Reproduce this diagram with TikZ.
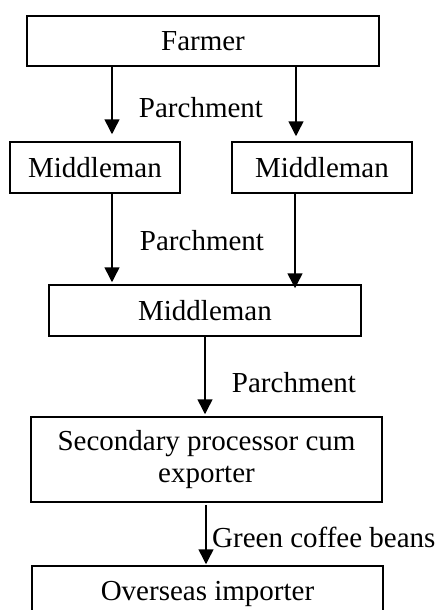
\documentclass[tikz,border=0pt]{standalone}
\usepackage{fontspec}
\setmainfont{Liberation Serif}
\usetikzlibrary{arrows.meta}
\tikzset{
  box/.style={draw, line width=1.5pt, inner sep=0pt, align=center, font=\fontsize{29}{32}\selectfont},
  lbl/.style={inner sep=0pt, font=\fontsize{29}{32}\selectfont},
  arr/.style={line width=1.5pt, -{Triangle[width=15pt,length=15pt]}}
}
\begin{document}
\begin{tikzpicture}[x=1pt,y=-1pt]
\useasboundingbox (0,0) rectangle (439,610);
\clip (0,0) rectangle (439,610);
\fill[white] (0,0) rectangle (439,610);
\node[box, minimum width=352pt, minimum height=50pt] (farmer) at (203,41) {Farmer};
\node[box, minimum width=170pt, minimum height=51pt] (ml) at (95,167.5) {Middleman};
\node[box, minimum width=180pt, minimum height=51pt] (mr) at (322,167.5) {Middleman};
\node[box, minimum width=312pt, minimum height=51pt] (mm) at (205,310.5) {Middleman};
\node[box, minimum width=351pt, minimum height=85pt] (sec) at (206.5,459.5) {Secondary processor cum\\exporter};
\node[box, minimum width=351pt, minimum height=56pt] (ovs) at (207.5,594) {Overseas importer};

\draw[arr, shorten >=7pt] ([xshift=-91pt]farmer.south) -- ([xshift=17pt]ml.north);
\draw[arr, shorten >=5pt] ([xshift=93pt]farmer.south) -- ([xshift=-26pt]mr.north);
\draw[arr, shorten >=2pt] ([xshift=17pt]ml.south) -- ([xshift=-93pt]mm.north);
\draw[arr, shorten >=-4pt] ([xshift=-27pt]mr.south) -- ([xshift=90pt]mm.north);
\draw[arr, shorten >=2pt] (mm.south) -- ([xshift=-1.5pt]sec.north);
\draw[arr, shorten <=2pt, shorten >=1pt] ([xshift=-0.5pt]sec.south) -- ([xshift=-1.5pt]ovs.north);

\node[lbl] (p1) at (201,108) {Parchment};
\node[lbl] (p2) at (202,241) {Parchment};
\node[lbl] (p3) at (294,383) {Parchment};
\node[lbl, anchor=west] (g) at (212,537) {Green coffee beans};
\end{tikzpicture}
\end{document}
